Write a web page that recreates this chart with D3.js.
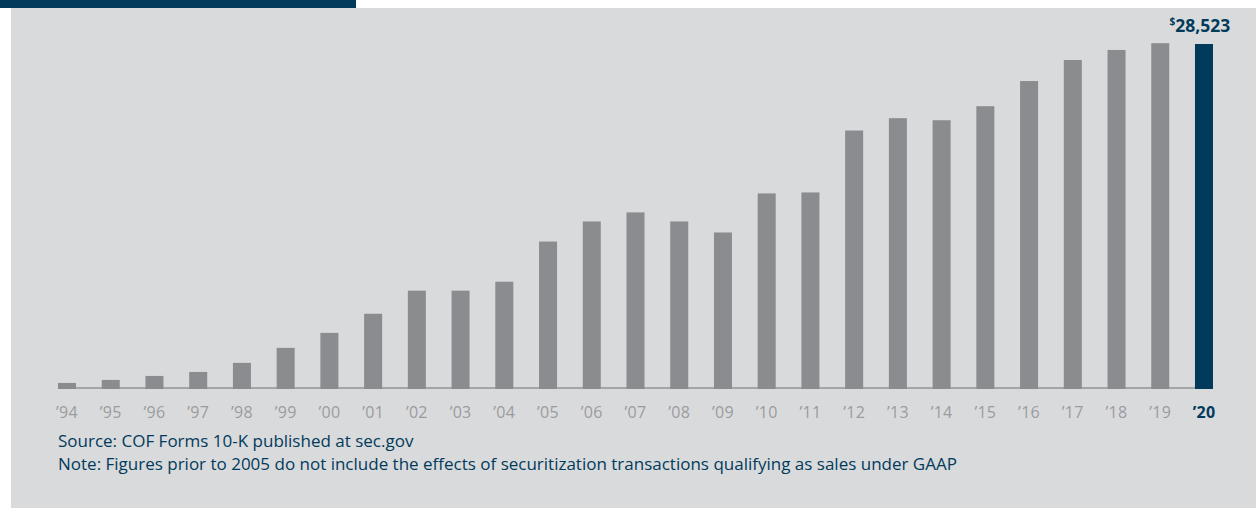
<!DOCTYPE html>
<html><head><meta charset="utf-8">
<script src="https://cdn.jsdelivr.net/npm/d3@7"></script>
<style>
html,body{margin:0;padding:0;background:#fff;}
svg{display:block;}
</style></head>
<body>
<svg id="chart" width="1256" height="508"></svg>
<script>
const years = ["’94","’95","’96","’97","’98","’99","’00","’01","’02","’03","’04","’05","’06","’07","’08","’09","’10","’11","’12","’13","’14","’15","’16","’17","’18","’19","’20"];
const revenue = [500, 750, 1080, 1410, 2160, 3400, 4640, 6220, 8130, 8130, 8870, 12190, 13850, 14600, 13850, 12940, 16170, 16250, 21370, 22390, 22220, 23380, 25460, 27200, 28030, 28590, 28523];
const highlightLabel = "28,523";
const sourceLines = ["Source: COF Forms 10-K published at sec.gov",
  "Note: Figures prior to 2005 do not include the effects of securitization transactions qualifying as sales under GAAP"];

const navy = "#023a5b", barGray = "#8b8c8f", bg = "#d9dadc", tickGray = "#9b9c9e", axisGray = "#a4a5a7";
const font = "'Open Sans', sans-serif";

const svg = d3.select("#chart");
svg.append("rect").attr("x",11).attr("y",8).attr("width",1245).attr("height",500).attr("fill",bg);
svg.append("rect").attr("x",0).attr("y",0).attr("width",356).attr("height",8).attr("fill",navy);

const x = d3.scaleBand().domain(years).range([58,1213]).paddingInner(0.588).paddingOuter(0);
const y = d3.scaleLinear().domain([0, 28523]).range([389, 44]);

// baseline
svg.append("line").attr("x1",58).attr("x2",1213).attr("y1",388).attr("y2",388)
  .attr("stroke",axisGray).attr("stroke-width",2);

svg.append("g").selectAll("rect").data(years).join("rect")
  .attr("x", d=>x(d)).attr("width", x.bandwidth())
  .attr("y", (d,i)=>y(revenue[i])).attr("height",(d,i)=>y(0)-y(revenue[i]))
  .attr("fill",(d,i)=> i===years.length-1 ? navy : barGray);

// axis labels
const axis = d3.axisBottom(x).tickSize(0).tickPadding(0);
const ag = svg.append("g").attr("transform","translate(0,418)").call(axis);
ag.select(".domain").remove();
ag.selectAll("text").attr("font-family",font).attr("font-size",16).attr("dy",0).attr("y",0)
  .attr("letter-spacing",0.3)
  .attr("fill",(d,i)=> i===years.length-1 ? navy : tickGray)
  .attr("font-weight",(d,i)=> i===years.length-1 ? 700 : 400);

// value label
const last = years[years.length-1];
const lbl = svg.append("text").attr("x", x(last)+x.bandwidth()/2 - 4).attr("y", 32)
  .attr("text-anchor","middle").attr("font-family",font).attr("font-weight",700).attr("fill",navy);
lbl.append("tspan").attr("font-size",10).attr("dy",-7).text("$");
lbl.append("tspan").attr("font-size",17.5).attr("dy",7).text(highlightLabel);

// notes
svg.append("g").selectAll("text").data(sourceLines).join("text")
  .attr("x",58).attr("y",(d,i)=>447+i*22.5)
  .attr("font-family",font).attr("font-size",17).attr("fill",navy).text(d=>d);
</script>
</body></html>
